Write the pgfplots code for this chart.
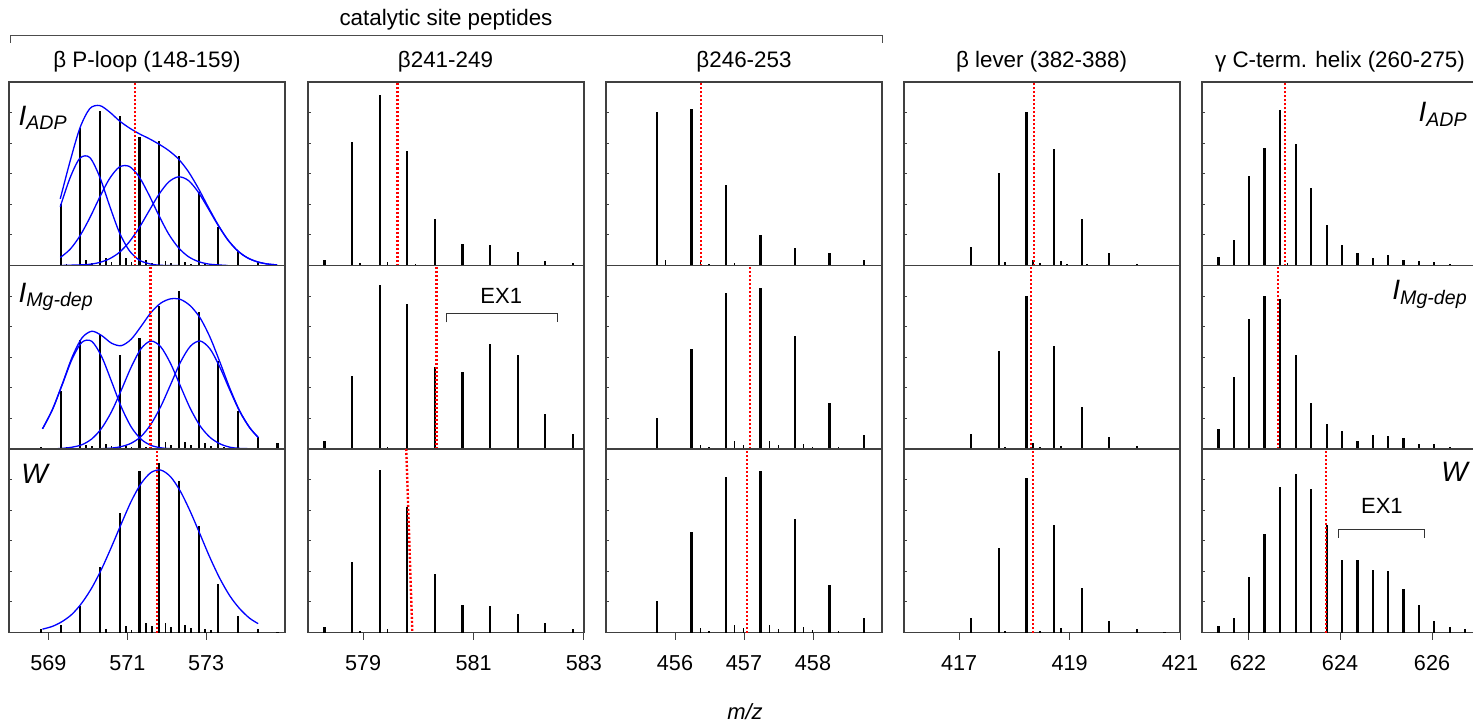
\documentclass[border=0pt]{standalone}
\usepackage{pgfplots}
\pgfplotsset{compat=1.18}
\usepackage{fontspec}
\setmainfont{Liberation Sans}

\pgfplotsset{
  spec/.style={
    scale only axis, width=138pt, height=91.75pt, anchor=south west,
    ymin=0, ymax=6, ytick={1,2,3,4,5}, yticklabels={},
    ytick pos=left, xtick pos=bottom,
    major tick length=3.5pt,
    axis line style={black!75, line width=0.6pt},
    tick style={black!75, line width=0.5pt},
    ytick style={/pgfplots/major tick length=1.5pt},
    xtick style={yshift=-3.5pt},
    /pgf/number format/assume math mode=true,
    tick label style={font=\fontsize{10.8}{12}\selectfont},
    xticklabel style={yshift=-8pt},
  },
  notick/.style={xtick=\empty},
  pk/.style={ycomb, black, line width=1.1pt},
  sm/.style={ycomb, black, line width=0.8pt},
  rl/.style={red, line width=1.2pt, dash pattern=on 1pt off 1pt},
  fit/.style={blue, line width=0.65pt, smooth},
  br/.style={black!80, line width=0.5pt},
}
\tikzset{
  lab/.style={inner sep=0pt, font=\fontsize{14}{16}\selectfont\itshape},
  ex/.style={inner sep=0pt, font=\fontsize{11}{13}\selectfont},
}

\begin{document}
\begin{tikzpicture}
\useasboundingbox (0,0) rectangle (736.5pt,362.5pt);

% ---------------- column 1: beta P-loop ----------------
\begin{axis}[spec, notick, at={(4.5pt,229.75pt)}, xmin=568, xmax=575]
\addplot[pk] coordinates {(568.81,0.03)(569.31,2.02)(569.81,4.50)(570.31,5.05)(570.81,4.89)(571.31,4.21)(571.81,4.07)(572.31,3.57)(572.81,2.40)(573.31,1.26)(573.81,0.49)(574.31,0.13)(574.81,0.03)};
\addplot[sm] coordinates {(569.46,0.05)(569.95,0.19)(570.10,0.08)(570.46,0.24)(570.60,0.11)(570.97,0.24)(571.11,0.11)(571.47,0.19)(571.62,0.08)(571.97,0.16)(572.11,0.08)(572.46,0.11)(572.62,0.05)(572.97,0.05)};
\addplot[fit] coordinates {(569.30,1.92)(569.55,2.87)(569.80,3.51)(570.05,3.53)(570.30,2.90)(570.55,1.96)(570.80,1.08)(571.05,0.49)(571.30,0.18)(571.55,0.06)(571.80,0.01)(572.05,0)(572.30,0)};
\addplot[fit] coordinates {(569.30,0.26)(569.55,0.53)(569.80,0.97)(570.05,1.56)(570.30,2.23)(570.55,2.84)(570.80,3.22)(571.05,3.24)(571.30,2.90)(571.55,2.31)(571.80,1.64)(572.05,1.03)(572.30,0.58)(572.55,0.29)(572.80,0.13)(573.05,0.05)(573.30,0.02)(573.55,0)};
\addplot[fit] coordinates {(569.30,0)(569.55,0.01)(569.80,0.02)(570.05,0.04)(570.30,0.10)(570.55,0.22)(570.80,0.43)(571.05,0.77)(571.30,1.23)(571.55,1.78)(571.80,2.32)(572.05,2.73)(572.30,2.90)(572.55,2.78)(572.80,2.40)(573.05,1.87)(573.30,1.32)(573.55,0.84)(573.80,0.48)(574.05,0.25)(574.30,0.12)(574.55,0.05)(574.80,0.02)};
\addplot[fit] coordinates {(569.30,2.18)(569.55,3.41)(569.80,4.50)(570.05,5.13)(570.30,5.23)(570.55,5.02)(570.80,4.73)(571.05,4.50)(571.30,4.31)(571.55,4.15)(571.80,3.97)(572.05,3.76)(572.30,3.48)(572.55,3.07)(572.80,2.53)(573.05,1.92)(573.30,1.34)(573.55,0.84)(573.80,0.48)(574.05,0.25)(574.30,0.12)(574.55,0.05)(574.80,0.02)};
\addplot[rl] coordinates {(571.20,0)(571.20,6)};
\node[lab, anchor=north west] at (rel axis cs:0.033,0.87) {I\textsubscript{ADP}};
\end{axis}

\begin{axis}[spec, notick, at={(4.5pt,138pt)}, xmin=568, xmax=575]
\addplot[pk] coordinates {(568.81,0.08)(569.31,1.91)(569.81,3.58)(570.31,3.72)(570.81,3.08)(571.31,3.64)(571.81,4.68)(572.31,5.16)(572.81,4.48)(573.31,2.87)(573.81,1.23)(574.31,0.40)(574.81,0.19)};
\addplot[sm] coordinates {(569.46,0.05)(569.95,0.14)(570.10,0.09)(570.46,0.16)(570.60,0.10)(570.97,0.10)(571.11,0.05)(571.47,0.08)(571.97,0.22)(572.11,0.14)(572.46,0.24)(572.62,0.13)(572.97,0.19)(573.12,0.11)(573.46,0.05)};
\addplot[fit] coordinates {(568.85,0.66)(569.10,1.28)(569.35,2.10)(569.60,2.94)(569.85,3.49)(570.10,3.52)(570.35,3.02)(570.60,2.21)(570.85,1.37)(571.10,0.72)(571.35,0.32)(571.60,0.12)(571.85,0.04)(572.10,0.01)(572.35,0)};
\addplot[fit] coordinates {(568.85,0)(569.10,0.005)(569.35,0.02)(569.60,0.06)(569.85,0.14)(570.10,0.33)(570.35,0.68)(570.60,1.22)(570.85,1.93)(571.10,2.68)(571.35,3.28)(571.60,3.53)(571.85,3.34)(572.10,2.79)(572.35,2.05)(572.60,1.32)(572.85,0.75)(573.10,0.38)(573.35,0.17)(573.60,0.06)(573.85,0.02)(574.10,0.01)(574.32,0)};
\addplot[fit] coordinates {(569.60,0)(569.85,0)(570.10,0)(570.35,0.01)(570.60,0.03)(570.85,0.08)(571.10,0.19)(571.35,0.41)(571.60,0.81)(571.85,1.39)(572.10,2.11)(572.35,2.84)(572.60,3.36)(572.85,3.53)(573.10,3.27)(573.35,2.67)(573.60,1.93)(573.85,1.23)(574.10,0.70)(574.32,0.38)};
\addplot[fit] coordinates {(568.85,0.66)(569.10,1.29)(569.35,2.12)(569.60,3.00)(569.85,3.63)(570.10,3.85)(570.35,3.71)(570.60,3.46)(570.85,3.38)(571.10,3.59)(571.35,4.01)(571.60,4.46)(571.85,4.77)(572.10,4.91)(572.35,4.89)(572.60,4.68)(572.85,4.28)(573.10,3.65)(573.35,2.84)(573.60,1.99)(573.85,1.25)(574.10,0.71)(574.32,0.38)};
\addplot[rl] coordinates {(571.59,0)(571.59,6)};
\node[lab, anchor=north west] at (rel axis cs:0.033,0.907) {I\textsubscript{Mg-dep}};
\end{axis}

\begin{axis}[spec, at={(4.5pt,46.25pt)}, xmin=568, xmax=575, xtick={569,571,573}]
\addplot[pk] coordinates {(568.81,0.12)(569.31,0.24)(569.81,0.86)(570.31,2.13)(570.81,3.92)(571.31,5.29)(571.81,5.54)(572.31,4.96)(572.81,3.49)(573.31,1.58)(573.81,0.55)(574.31,0.13)(574.81,0.03)};
\addplot[sm] coordinates {(570.46,0.10)(570.97,0.20)(571.11,0.08)(571.47,0.30)(571.62,0.20)(571.97,0.30)(572.11,0.18)(572.46,0.24)(572.62,0.16)(572.97,0.12)(573.12,0.08)};
\addplot[fit] coordinates {(568.85,0.11)(569.10,0.20)(569.35,0.36)(569.60,0.60)(569.85,0.97)(570.10,1.46)(570.35,2.08)(570.60,2.80)(570.85,3.56)(571.10,4.29)(571.35,4.87)(571.60,5.23)(571.85,5.31)(572.10,5.09)(572.35,4.61)(572.60,3.95)(572.85,3.20)(573.10,2.44)(573.35,1.76)(573.60,1.20)(573.85,0.78)(574.10,0.47)(574.32,0.29)};
\addplot[rl] coordinates {(571.75,0)(571.75,6)};
\node[lab, anchor=north west] at (rel axis cs:0.043,0.92) {W};
\end{axis}

% ---------------- column 2: beta 241-249 ----------------
\begin{axis}[spec, notick, at={(154pt,229.75pt)}, xmin=578, xmax=583]
\addplot[pk] coordinates {(578.30,0.19)(578.80,4.03)(579.30,5.59)(579.80,3.73)(580.30,1.53)(580.80,0.69)(581.30,0.68)(581.80,0.44)(582.30,0.16)(582.80,0.08)};
\addplot[sm] coordinates {(578.94,0.08)(579.44,0.13)(579.95,0.05)};
\addplot[rl] coordinates {(579.62,0)(579.62,6)};
\end{axis}

\begin{axis}[spec, notick, at={(154pt,138pt)}, xmin=578, xmax=583]
\addplot[pk] coordinates {(578.30,0.27)(578.80,2.39)(579.30,5.37)(579.80,4.74)(580.30,2.68)(580.80,2.52)(581.30,3.42)(581.80,3.08)(582.30,1.16)(582.80,0.48)};
\addplot[sm] coordinates {(579.44,0.05)};
\addplot[rl] coordinates {(580.33,0)(580.33,6)};
\addplot[br] coordinates {(580.51,4.14)(580.51,4.42)(582.52,4.42)(582.52,4.14)};
\node[ex] at (axis cs:581.5,5.0) {EX1};
\end{axis}

\begin{axis}[spec, at={(154pt,46.25pt)}, xmin=578, xmax=583, xtick={579,581,583}]
\addplot[pk] coordinates {(578.30,0.19)(578.80,2.30)(579.30,5.32)(579.80,4.10)(580.30,1.91)(580.80,0.91)(581.30,0.86)(581.80,0.62)(582.30,0.32)(582.80,0.13)};
\addplot[sm] coordinates {(578.94,0.05)(579.44,0.13)};
\addplot[rl] coordinates {(579.78,6)(579.89,0)};
\end{axis}

% ---------------- column 3: beta 246-253 ----------------
\begin{axis}[spec, notick, at={(303pt,229.75pt)}, xmin=455, xmax=459]
\addplot[pk] coordinates {(455.74,5.02)(456.24,5.12)(456.74,2.62)(457.24,0.99)(457.74,0.58)(458.24,0.40)(458.74,0.19)};
\addplot[sm] coordinates {(455.86,0.19)(455.99,0.03)(456.37,0.16)(456.49,0.05)(456.86,0.08)(457.99,0.03)(458.49,0.03)};
\addplot[rl] coordinates {(456.38,0)(456.38,6)};
\end{axis}

\begin{axis}[spec, notick, at={(303pt,138pt)}, xmin=455, xmax=459]
\addplot[pk] coordinates {(455.74,1.02)(456.24,3.26)(456.74,5.10)(457.24,5.26)(457.74,3.69)(458.24,1.52)(458.74,0.45)};
\addplot[sm] coordinates {(455.86,0.03)(456.37,0.13)(456.49,0.05)(456.86,0.26)(456.99,0.14)(457.37,0.26)(457.50,0.13)(457.86,0.16)(457.99,0.07)(458.37,0.05)};
\addplot[rl] coordinates {(457.09,0)(457.09,6)};
\end{axis}

\begin{axis}[spec, at={(303pt,46.25pt)}, xmin=455, xmax=459, xtick={456,457,458}]
\addplot[pk] coordinates {(455.74,1.04)(456.24,3.28)(456.74,5.10)(457.24,5.29)(457.74,3.72)(458.24,1.54)(458.74,0.47)};
\addplot[sm] coordinates {(456.37,0.15)(456.49,0.05)(456.86,0.25)(456.99,0.15)(457.37,0.25)(457.50,0.13)(457.86,0.17)(457.99,0.07)(458.37,0.05)};
\addplot[rl] coordinates {(457.04,0)(457.04,6)};
\end{axis}

% ---------------- column 4: beta lever ----------------
\begin{axis}[spec, notick, at={(452pt,229.75pt)}, xmin=416, xmax=421]
\addplot[pk] coordinates {(417.21,0.59)(417.72,3.01)(418.22,5.01)(418.72,3.82)(419.22,1.53)(419.72,0.40)(420.22,0.06)(420.72,0.03)};
\addplot[sm] coordinates {(417.83,0.11)(418.34,0.19)(418.46,0.08)(418.84,0.15)(418.95,0.05)(419.32,0.04)};
\addplot[rl] coordinates {(418.36,0)(418.36,6)};
\end{axis}

\begin{axis}[spec, notick, at={(452pt,138pt)}, xmin=416, xmax=421]
\addplot[pk] coordinates {(417.21,0.50)(417.72,3.20)(418.22,5.01)(418.72,3.37)(419.22,1.38)(419.72,0.39)(420.22,0.11)(420.72,0.02)};
\addplot[sm] coordinates {(417.83,0.05)(418.34,0.18)(418.46,0.05)(418.84,0.11)};
\addplot[rl] coordinates {(418.30,0)(418.30,6)};
\end{axis}

\begin{axis}[spec, at={(452pt,46.25pt)}, xmin=416, xmax=421, xtick={417,419,421}]
\addplot[pk] coordinates {(417.21,0.46)(417.72,2.76)(418.22,5.04)(418.72,3.53)(419.22,1.47)(419.72,0.39)(420.22,0.10)(420.72,0.02)};
\addplot[sm] coordinates {(417.83,0.06)(418.46,0.05)(418.84,0.15)};
\addplot[rl] coordinates {(418.34,0)(418.34,6)};
\end{axis}

% ---------------- column 5: gamma C-term helix ----------------
\begin{axis}[spec, notick, at={(601pt,229.75pt)}, xmin=621, xmax=627]
\addplot[pk] coordinates {(621.36,0.27)(621.69,0.82)(622.03,2.94)(622.36,3.84)(622.70,5.10)(623.04,3.98)(623.37,2.55)(623.71,1.34)(624.04,0.68)(624.38,0.42)(624.71,0.25)(625.05,0.33)(625.38,0.19)(625.72,0.14)(626.05,0.13)(626.39,0.05)(626.72,0.03)};
\addplot[sm] coordinates {(622.86,0.08)};
\addplot[rl] coordinates {(622.80,0)(622.80,6)};
\node[lab, anchor=north east] at (rel axis cs:0.964,0.89) {I\textsubscript{ADP}};
\end{axis}

\begin{axis}[spec, notick, at={(601pt,138pt)}, xmin=621, xmax=627]
\addplot[pk] coordinates {(621.36,0.64)(621.69,2.35)(622.03,4.25)(622.36,5.01)(622.70,4.91)(623.04,3.08)(623.37,1.50)(623.71,0.82)(624.04,0.59)(624.38,0.27)(624.71,0.46)(625.05,0.43)(625.38,0.35)(625.72,0.16)(626.05,0.15)(626.39,0.05)(626.72,0.03)};
\addplot[rl] coordinates {(622.65,0)(622.65,6)};
\node[lab, anchor=north east] at (rel axis cs:0.964,0.92) {I\textsubscript{Mg-dep}};
\end{axis}

\begin{axis}[spec, at={(601pt,46.25pt)}, xmin=621, xmax=627, xtick={622,624,626}]
\addplot[pk] coordinates {(621.36,0.22)(621.69,0.49)(622.03,1.81)(622.36,3.23)(622.70,4.77)(623.04,5.19)(623.37,4.68)(623.71,3.53)(624.04,2.36)(624.38,2.36)(624.71,2.03)(625.05,2.00)(625.38,1.42)(625.72,0.91)(626.05,0.36)(626.39,0.17)(626.72,0.11)};
\addplot[rl] coordinates {(623.70,0)(623.70,6)};
\addplot[br] coordinates {(623.97,3.09)(623.97,3.37)(625.84,3.37)(625.84,3.09)};
\node[ex] at (axis cs:624.91,4.13) {EX1};
\node[lab, anchor=north east] at (rel axis cs:0.964,0.93) {W};
\end{axis}

% ---------------- titles and labels ----------------
\begin{scope}[every node/.style={anchor=base, inner sep=0pt, font=\fontsize{11.2}{13}\selectfont}]
\node at (73.5pt,328.5pt) {β P-loop (148-159)};
\node at (222.75pt,328.5pt) {β241-249};
\node at (372pt,328.5pt) {β246-253};
\node at (520.75pt,328.5pt) {β lever (382-388)};
\node at (670pt,328.5pt) {γ C-term. helix (260-275)};
\node at (223pt,349.5pt) {catalytic site peptides};
\node[font=\fontsize{11}{13}\selectfont\itshape] at (372.5pt,3pt) {m/z};
\end{scope}
\draw[black!70, line width=0.5pt] (5pt,341pt) -- (5pt,344.5pt) -- (441pt,344.5pt) -- (441pt,341pt);
\end{tikzpicture}
\end{document}
